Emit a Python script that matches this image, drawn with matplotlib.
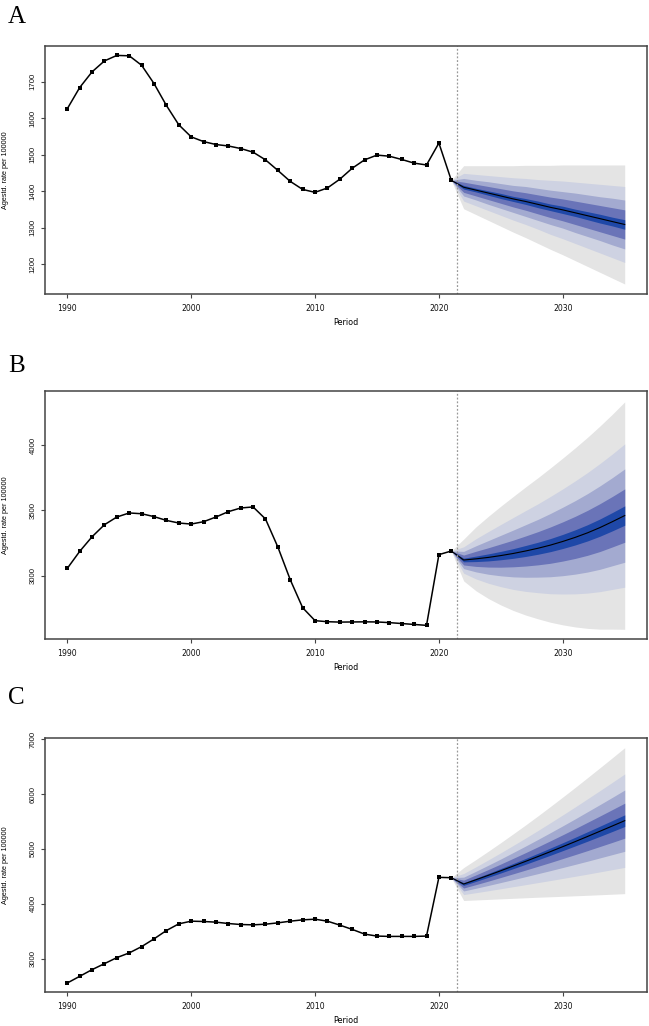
import numpy as np
import matplotlib
matplotlib.use("Agg")
import matplotlib.pyplot as plt

# observed years and age-standardised rates (per 100000)
years_obs = list(range(1990, 2022))
rate_a = [1626, 1684, 1727, 1757, 1772, 1771, 1745, 1695, 1635, 1582, 1549, 1536,
          1528, 1524, 1517, 1507, 1486, 1457, 1427, 1405, 1397, 1409, 1433, 1463,
          1486, 1499, 1496, 1487, 1477, 1472, 1532, 1430]
rate_b = [3056, 3186, 3298, 3390, 3449, 3480, 3474, 3452, 3423, 3403, 3395, 3413,
          3449, 3490, 3518, 3526, 3434, 3219, 2969, 2755, 2656, 2648, 2645, 2646,
          2647, 2646, 2641, 2634, 2627, 2620, 3161, 3189]
rate_c = [2555, 2677, 2799, 2908, 3018, 3104, 3219, 3360, 3512, 3634, 3683, 3677,
          3665, 3640, 3622, 3616, 3628, 3652, 3683, 3707, 3719, 3683, 3611, 3533,
          3447, 3411, 3405, 3405, 3405, 3411, 4482, 4476]

# projection years (2021 = last observed point) and medians
years_fc = list(range(2021, 2036))
med_a = [1430, 1411, 1403, 1395, 1387, 1379, 1372, 1364, 1356, 1349, 1341, 1333, 1325, 1317, 1309]
med_b = [3189, 3120, 3129, 3140, 3154, 3170, 3189, 3210, 3234, 3262, 3293, 3328, 3368, 3413, 3460]
med_c = [4476, 4360, 4439, 4520, 4603, 4688, 4774, 4862, 4951, 5042, 5134, 5228, 5323, 5419, 5516]

# half widths of the fan bands, outer -> inner
hw_a = [
    [0, 59, 67, 75, 83, 91, 99, 107, 115, 123, 131, 139, 147, 155, 163],
    [0, 38, 43, 48, 53, 58, 63, 68, 74, 79, 84, 89, 94, 99, 104],
    [0, 24, 27, 31, 34, 37, 41, 44, 47, 50, 54, 57, 60, 64, 67],
    [0, 14, 16, 18, 20, 22, 24, 26, 28, 30, 32, 34, 36, 38, 40],
    [0, 5, 5, 6, 7, 7, 8, 9, 9, 10, 10, 11, 12, 12, 13],
]
hw_b = [
    [0, 160, 245, 315, 378, 436, 490, 540, 590, 638, 685, 731, 777, 822, 870],
    [0, 101, 154, 198, 238, 275, 309, 340, 372, 402, 432, 461, 490, 518, 548],
    [0, 66, 100, 129, 155, 179, 201, 221, 242, 262, 281, 300, 319, 337, 357],
    [0, 38, 58, 74, 89, 102, 115, 127, 139, 150, 161, 172, 183, 193, 204],
    [0, 14, 21, 27, 32, 37, 42, 46, 50, 54, 58, 62, 66, 70, 74],
]
hw_c = [
    [0, 300, 369, 440, 513, 588, 664, 742, 823, 905, 988, 1073, 1158, 1244, 1331],
    [0, 192, 236, 282, 328, 376, 425, 475, 527, 579, 632, 687, 741, 796, 852],
    [0, 126, 155, 185, 215, 247, 279, 312, 346, 380, 415, 451, 486, 522, 559],
    [0, 72, 89, 106, 123, 141, 159, 178, 198, 217, 237, 258, 278, 299, 319],
    [0, 24, 30, 35, 41, 47, 53, 59, 66, 72, 79, 86, 93, 100, 106],
]

fan_colors = ["#e4e4e4", "#ced2e2", "#a3aad0", "#6a74b8", "#1f48a8"]

panels = [
    ("A", rate_a, med_a, hw_a, (1118.6, 1797.8), [1200, 1300, 1400, 1500, 1600, 1700], 46, 294),
    ("B", rate_b, med_b, hw_b, (2515.7, 4413), [3000, 3500, 4000], 391, 639),
    ("C", rate_c, med_c, hw_c, (2391, 7024), [3000, 4000, 5000, 6000, 7000], 738, 992),
]
letter_y = [23, 372, 704]

narrow = ["Liberation Sans Narrow", "Liberation Sans"]
W, H = 649, 1026
fig = plt.figure(figsize=(W / 100, H / 100), dpi=100)

for (letter, obs, med, hws, ylim, yticks, top, bot), ly in zip(panels, letter_y):
    ax = fig.add_axes([45 / W, 1 - bot / H, 602 / W, (bot - top) / H])
    med = np.array(med, dtype=float)
    for hw, col in zip(hws, fan_colors):
        hw = np.array(hw, dtype=float)
        ax.fill_between(years_fc, med - hw, med + hw, color=col, lw=0)
    ax.plot(years_fc, med, color="black", lw=0.8)
    ax.plot(years_obs, obs, color="black", lw=1.1, marker="s", markersize=2.6,
            markeredgewidth=0)
    ax.axvline(2021.5, color="#999999", lw=0.9, ls=(0, (1.5, 1.5)))

    ax.set_xlim(1988.2, 2036.8)
    ax.set_ylim(*ylim)
    ax.set_xticks([1990, 2000, 2010, 2020, 2030])
    ax.set_yticks(yticks)
    ax.set_yticklabels([str(t) for t in yticks], rotation=90, va="center",
                       family=narrow, fontsize=5.6)
    ax.tick_params(axis="x", labelsize=5.6, length=3, width=0.8, pad=4,
                   color="#444444", labelcolor="#111111")
    ax.tick_params(axis="y", length=3, width=0.8, pad=3,
                   color="#444444", labelcolor="#111111")
    for s in ax.spines.values():
        s.set_color("#444444")
        s.set_linewidth(1.1)
    ax.set_xlabel("Period", fontsize=5.8, labelpad=4)
    fig.text(6 / W, 1 - (top + bot) / 2 / H, "Agestd. rate per 100000", fontsize=5.2,
             family=narrow, rotation=90, ha="center", va="center")
    fig.text(8 / W, 1 - ly / H, letter, fontsize=18, family="Liberation Serif",
             ha="left", va="baseline")

fig.savefig("out.png", dpi=100)
